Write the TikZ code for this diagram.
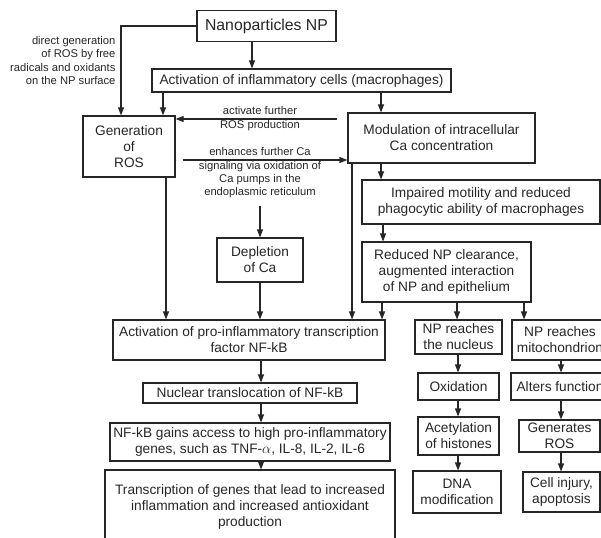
\documentclass[tikz,border=0pt]{standalone}
\usepackage{fontspec}
\setmainfont{Liberation Sans}
\usetikzlibrary{arrows.meta}
\tikzset{
  box/.style={draw, line width=1.1pt, inner sep=0pt, align=center,
    font=\fontsize{13.7}{16}\selectfont},
  note/.style={inner sep=0pt, font=\fontsize{11.2}{13.3}\selectfont},
}
\begin{document}
\begin{tikzpicture}[x=1pt, y=-1pt, line width=1.1pt, color=black!85]
      \useasboundingbox (0,0) rectangle (601,537);
      \draw
        (266.5,26) node[box, minimum width=139, minimum height=31,
          font=\fontsize{15.8}{18}\selectfont] (np) {Nanoparticles NP}
        (301.5,80.5) node[box, minimum width=299, minimum height=23] (infl)
          {Activation of inflammatory cells (macrophages)}
        (129,146.5) node[box, minimum width=92, minimum height=61] (gen)
          {Generation\\of\\ROS}
        (441.5,138) node[box, minimum width=187, minimum height=50] (mod)
          {Modulation of intracellular\\Ca concentration}
        (481,202) node[box, minimum width=238, minimum height=44] (imp)
          {Impaired motility and reduced\\phagocytic ability of macrophages}
        (446.5,272) node[box, minimum width=169, minimum height=60] (red)
          {Reduced NP clearance,\\augmented interaction\\of NP and epithelium}
        (260,260) node[box, minimum width=86, minimum height=44] (depl)
          {Depletion\\of Ca}
        (249,340) node[box, minimum width=272, minimum height=40] (actnf)
          {Activation of pro-inflammatory transcription\\factor NF-kB}
        (458.5,337) node[box, minimum width=87, minimum height=34] (nuc)
          {NP reaches\\the nucleus}
        (560,340) node[box, minimum width=96, minimum height=40] (mito)
          {NP reaches\\mitochondrion}
        (458.5,386.5) node[box, minimum width=81, minimum height=27] (oxid)
          {Oxidation}
        (458.5,436) node[box, minimum width=81, minimum height=38] (acet)
          {Acetylation\\of histones}
        (457,492) node[box, minimum width=88, minimum height=42] (dna)
          {DNA\\modification}
        (560,386.5) node[box, minimum width=98, minimum height=27] (alters)
          {Alters function}
        (559.5,436) node[box, minimum width=81, minimum height=32] (genros)
          {Generates\\ROS}
        (561.5,492) node[box, minimum width=77, minimum height=40] (cell)
          {Cell injury,\\apoptosis}
        (250,393) node[box, minimum width=214, minimum height=20] (nuct)
          {Nuclear translocation of NF-kB}
        (250,442) node[box, minimum width=280, minimum height=38] (gains)
          {NF-kB gains access to high pro-inflammatory\\genes, such as TNF-$\alpha$, IL-8, IL-2, IL-6}
        (250,507) node[box, minimum width=290, minimum height=74] (trans)
          {Transcription of genes that lead to increased\\inflammation and increased antioxidant\\production}
        (116,36) node[note, align=right, anchor=north east] (direct)
          {direct generation\\of ROS by free\\radicals and oxidants\\on the NP surface}
        (260,118.5) node[note, align=center] (actl)
          {activate further\\ROS production}
        (260,173) node[note, align=center] (enh)
          {enhances further Ca\\signaling via oxidation of\\Ca pumps in the\\endoplasmic reticulum};
      \begin{scope}[-{Triangle[length=8pt,width=6pt]}]
        \draw (np.south -| 252,0) to (infl.north -| 252,0);
        \draw (np.west) -| (gen.north -| 121,0);
        \draw (infl.south -| 163,0) to (gen.north -| 163,0);
        \draw (infl.south -| 381,0) to (mod.north -| 381,0);
        \draw[shorten <=10pt] (mod.west |- 0,119) to (gen.east |- 0,119);
        \draw[shorten <=7pt] (gen.east |- 0,160) to (mod.west |- 0,160);
        \draw[shorten <=7pt] (enh.south -| depl.north) to (depl.north);
        \draw (depl.south) to (depl.south |- actnf.north);
        \draw (gen.south -| 166,0) to (actnf.north -| 166,0);
        \draw (mod.south -| 352,0) to (actnf.north -| 352,0);
        \draw (mod.south -| 381,0) to (imp.north -| 381,0);
        \draw (imp.south -| 383,0) to (red.north -| 383,0);
        \draw (red.south -| 382,0) to (actnf.north -| 382,0);
        \draw (red.south -| 457,0) to (nuc.north -| 457,0);
        \draw (red.south -| 524,0) to (mito.north -| 524,0);
        \draw (nuc.south -| 458,0) to (oxid.north -| 458,0);
        \draw (oxid.south -| 458,0) to (acet.north -| 458,0);
        \draw (acet.south -| 458,0) to (dna.north -| 458,0);
        \draw (mito.south -| 561,0) to (alters.north -| 561,0);
        \draw (alters.south -| 561,0) to (genros.north -| 561,0);
        \draw (genros.south -| 561,0) to (cell.north -| 561,0);
        \draw (actnf.south -| 261,0) to (nuct.north -| 261,0);
        \draw (nuct.south -| 261,0) to (gains.north -| 261,0);
        \draw (gains.south -| 261,0) to (trans.north -| 261,0);
      \end{scope}
    \end{tikzpicture}
\end{document}
